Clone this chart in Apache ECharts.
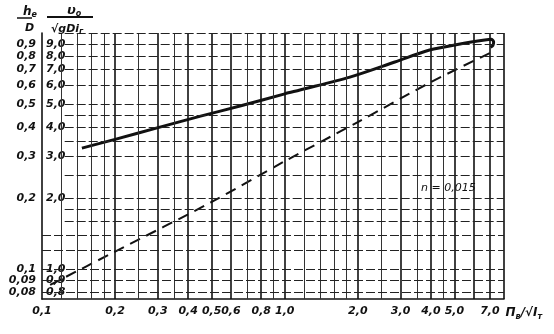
<!DOCTYPE html>
<html><head><meta charset="utf-8">
<script src="https://cdn.jsdelivr.net/npm/echarts@6/dist/echarts.min.js"></script>
<style>html,body{margin:0;padding:0;background:#fff}#c{width:554px;height:334px}</style>
</head><body><div id="c"></div>
<script>
// tick labels
const xTickValues = [0.1,0.2,0.3,0.4,0.5,0.6,0.8,1,2,3,4,5,6,7];
const xTickLabels = ['0,1','0,2','0,3','0,4','0,5','0,6','0,8','1,0','2,0','3,0','4,0','5,0','6,0','7,0'];
const yLeftValues = [0.08,0.09,0.1,0.2,0.3,0.4,0.5,0.6,0.7,0.8,0.9];
const yLeftLabels = ['0,08','0,09','0,1','0,2','0,3','0,4','0,5','0,6','0,7','0,8','0,9'];
const yRightValues = [0.8,0.9,1,2,3,4,5,6,7,8,9];
const yRightLabels = ['0,8','0,9','1,0','2,0','3,0','4,0','5,0','6,0','7,0','8,0','9,0'];
// grid lines
const xMajorLines = [0.2,0.3,0.4,0.5,0.6,0.8,1,2,3,4,5,6,7,8];
const xMinorLines = [0.12,0.14,0.16,0.18,0.25,0.35,0.7,0.9,1.2,1.4,1.6,1.8,2.5,3.5,4.5];
const yGridLines = [0.08,0.09,0.1,0.12,0.14,0.16,0.18,0.2,0.25,0.3,0.35,0.4,0.45,0.5,0.6,0.7,0.8,0.9,1.0];
// series: solid curve (h0/D vs Пв/√Iт)
const solidX = [0.146,0.2,0.306,0.45,0.654,1.0,1.155,1.855,2.84,3.95,5.27,6.67,7.1,7.25,7.2,7.05];
const solidY = [0.326,0.355,0.40,0.445,0.491,0.553,0.574,0.651,0.754,0.847,0.898,0.934,0.94,0.915,0.885,0.87];
// series: dashed line (n = 0,015)
const dashX = [0.108,0.2,0.5,1.0,2.0,4.0,7.0];
const dashY = [0.086,0.119,0.193,0.287,0.42,0.62,0.823];

const XMIN = 0.1, XMAX = 8, YMIN = 0.075, YMAX = 1.0;
const FONT = 'DejaVu Sans';
const ink = '#111';

function lookup(vals, labs){
  return function(v){
    for (let i=0;i<vals.length;i++) if (Math.abs(vals[i]-v) < vals[i]*1e-3) return labs[i];
    return '';
  };
}

const gridMarks = [];
xMajorLines.forEach(v => gridMarks.push([{coord:[v,YMIN], lineStyle:{width:1.6,color:ink,type:'solid'}},{coord:[v,YMAX]}]));
xMinorLines.forEach(v => gridMarks.push([{coord:[v,YMIN], lineStyle:{width:1,color:'#333',type:'solid'}},{coord:[v,YMAX]}]));
yGridLines.forEach(v => {
  const x0 = v <= 0.15 ? XMIN : 0.124;
  gridMarks.push([{coord:[x0,v], lineStyle:{width:1.2,color:'#222',type:[9,3]}},{coord:[XMAX,v]}]);
});

const chart = echarts.init(document.getElementById('c'), null, {renderer:'canvas'});
chart.setOption({
  animation:false,
  backgroundColor:'#fff',
  grid:{left:42,right:50,top:33,bottom:35,containLabel:false},
  xAxis:{
    type:'log', logBase:10, min:XMIN, max:XMAX,
    axisLine:{show:true,lineStyle:{color:ink,width:1.6}},
    axisTick:{show:false},
    splitLine:{show:false},
    minorSplitLine:{show:false},
    axisLabel:{customValues:xTickValues, formatter:lookup(xTickValues,xTickLabels),
      fontFamily:FONT, fontStyle:'italic', fontWeight:'bold', fontSize:11, color:ink, margin:7, showMinLabel:true, showMaxLabel:true},
    name:'{a|П}{s|в}{a|/√I}{s|т}', nameLocation:'end', nameGap:-6,
    nameTextStyle:{verticalAlign:'top', padding:[6,0,0,0],
      rich:{a:{fontFamily:FONT,fontStyle:'italic',fontWeight:'bold',fontSize:12,color:ink},
            s:{fontFamily:FONT,fontStyle:'italic',fontWeight:'bold',fontSize:8,color:ink,padding:[8,0,0,0]}}}
  },
  yAxis:[{
    type:'log', logBase:10, min:YMIN, max:YMAX, position:'left',
    axisLine:{show:true,lineStyle:{color:ink,width:1.6}},
    axisTick:{show:false}, splitLine:{show:false},
    axisLabel:{customValues:yLeftValues, formatter:lookup(yLeftValues,yLeftLabels),
      fontFamily:FONT, fontStyle:'italic', fontWeight:'bold', fontSize:11, color:ink, margin:6, showMinLabel:true, showMaxLabel:true}
  },{
    type:'log', logBase:10, min:YMIN*10, max:YMAX*10, position:'left',
    axisLine:{show:false}, axisTick:{show:false}, splitLine:{show:false},
    axisLabel:{inside:true, customValues:yRightValues, formatter:lookup(yRightValues,yRightLabels),
      fontFamily:FONT, fontStyle:'italic', fontWeight:'bold', fontSize:11, color:ink, margin:4, showMinLabel:true, showMaxLabel:true}
  }],
  title:[
    {text:'{a|h}{s|е}', left:18, top:0, textStyle:{rich:{a:{fontFamily:FONT,fontStyle:'italic',fontWeight:'bold',fontSize:12,color:ink},s:{fontFamily:FONT,fontStyle:'italic',fontSize:8,color:ink,padding:[6,0,0,0]}}}},
    {text:'D', left:20, top:18, textStyle:{fontFamily:FONT,fontStyle:'italic',fontWeight:'bold',fontSize:11,color:ink}},
    {text:'{a|υ}{s|о}', left:62, top:-1, textStyle:{rich:{a:{fontFamily:FONT,fontStyle:'italic',fontWeight:'bold',fontSize:13,color:ink},s:{fontFamily:FONT,fontStyle:'italic',fontSize:8,color:ink,padding:[6,0,0,0]}}}},
    {text:'{a|√gDi}{s|г}', left:46, top:17, textStyle:{rich:{a:{fontFamily:FONT,fontStyle:'italic',fontWeight:'bold',fontSize:11,color:ink},s:{fontFamily:FONT,fontStyle:'italic',fontSize:8,color:ink,padding:[6,0,0,0]}}}},
    {text:'n = 0,015', left:416, top:178, textStyle:{fontFamily:FONT,fontStyle:'italic',fontWeight:'normal',fontSize:11,color:ink}}
  ],
  graphic:[
    {type:'line', shape:{x1:17,y1:18,x2:32,y2:18}, style:{stroke:ink,lineWidth:1.5}},
    {type:'line', shape:{x1:47,y1:17,x2:93,y2:17}, style:{stroke:ink,lineWidth:1.8}}
  ],
  series:[
    {type:'line', xAxisIndex:0, yAxisIndex:0, symbol:'none', smooth:0.3,
     data:dashX.map((x,i)=>[x,dashY[i]]),
     lineStyle:{color:ink,width:2,type:[11,7]},
     markLine:{silent:true, symbol:['none','none'], label:{show:false}, data:gridMarks},
     z:3},
    {type:'line', xAxisIndex:0, yAxisIndex:0, symbol:'none', smooth:0.3,
     data:solidX.map((x,i)=>[x,solidY[i]]),
     lineStyle:{color:ink,width:3}, z:4}
  ]
});
</script></body></html>
